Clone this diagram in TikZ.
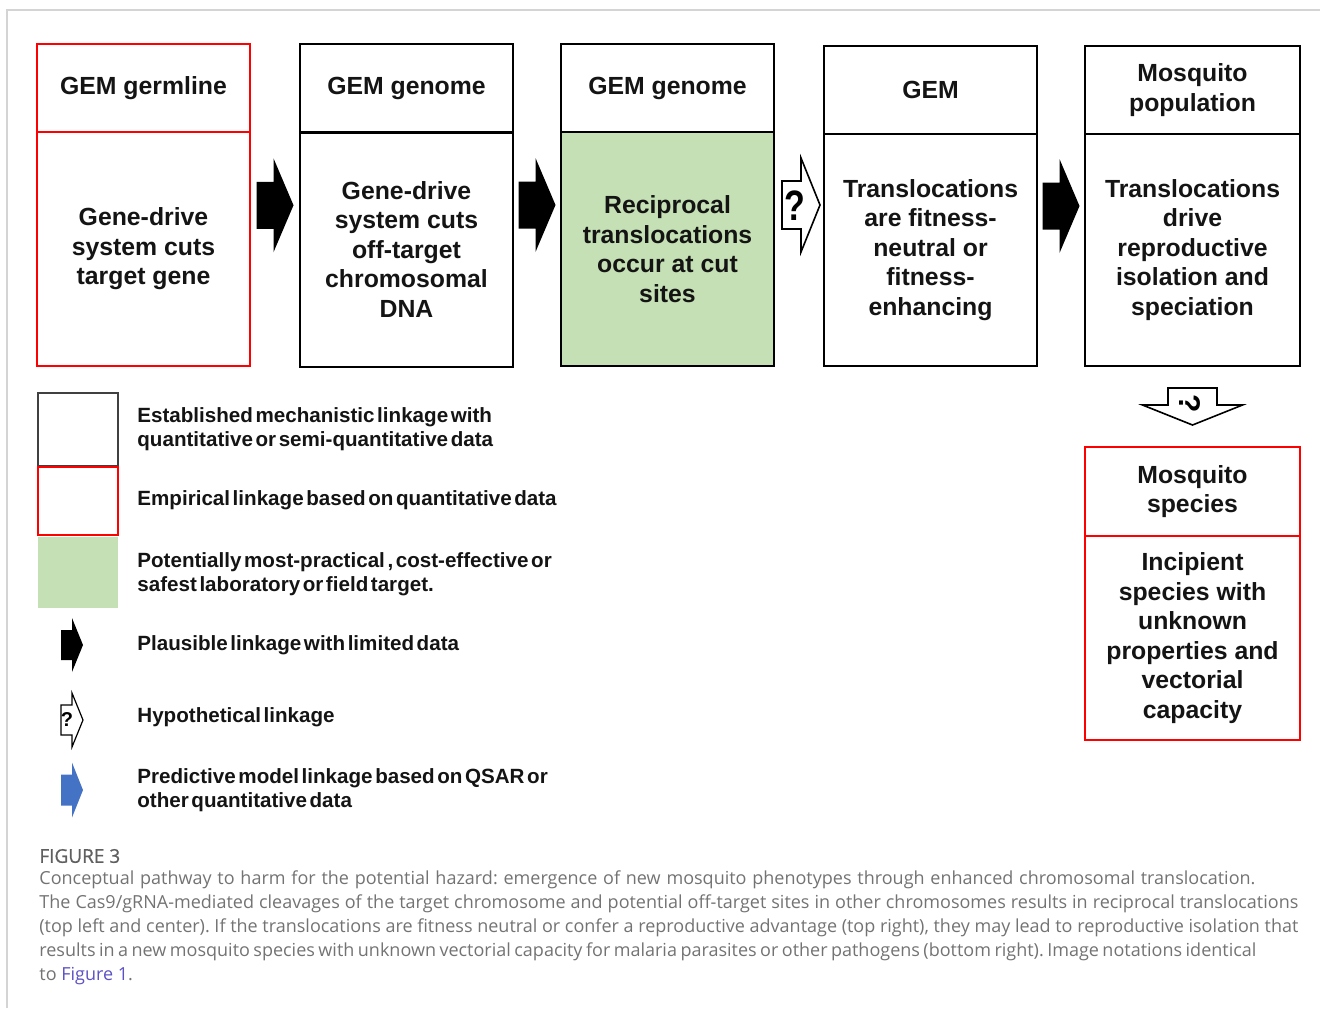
\documentclass[tikz,border=0pt]{standalone}
\usepackage{fontspec}
\setmainfont{Liberation Sans}
\newfontfamily\legfont[WordSpace=0.45]{Liberation Sans}
\newfontfamily\capfont{Open Sans}
\newfontfamily\captitlefont[FakeBold=0.8]{Open Sans}
\usetikzlibrary{calc}
\definecolor{boxred}{RGB}{255,0,0}
\definecolor{boxgreen}{RGB}{197,224,180}
\definecolor{arrblue}{RGB}{68,114,196}
\definecolor{framegray}{RGB}{212,212,212}
\definecolor{capgray}{RGB}{115,115,115}
\definecolor{titlegray}{RGB}{95,95,95}
\definecolor{linkpurple}{RGB}{92,82,196}
\definecolor{txt}{RGB}{20,20,20}
% #1 style, #2 centre, #3 shaft start, #4 head base, #5 tip, #6 shaft half, #7 head half
\newcommand\blkarrow[7]{\filldraw[#1,shift={(#2)}] (#3,-#6) -- (#4,-#6) -- (#4,-#7) -- (#5,0) -- (#4,#7) -- (#4,#6) -- (#3,#6) -- cycle;}
\frenchspacing
\begin{document}
\begin{tikzpicture}[x=0.5pt,y=-0.5pt,
  boxfont/.style={font=\fontsize{12.4}{14.75}\selectfont\bfseries, text=txt},
  hdr/.style={draw, line width=1pt, minimum width=106.5pt, minimum height=44pt, inner sep=0pt, align=center, boxfont},
  bdy/.style={draw, line width=1pt, minimum width=106.5pt, minimum height=117pt, inner sep=0pt, align=center, boxfont},
  redbox/.style={draw=boxred},
  legtext/.style={anchor=west, align=left, inner sep=0pt, font=\legfont\fontsize{10.3}{12}\selectfont\bfseries, text=txt},
  legsq/.style={minimum width=40pt, inner sep=0pt},
  caption/.style={anchor=west, inner sep=0pt, font=\capfont\fontsize{9}{12}\selectfont, text=capgray}
]
\useasboundingbox (0,0) rectangle (1320,1008);
\draw[framegray, line width=1pt] (7,1008) -- (7,10) -- (1320,10);

% boxes
\node[hdr,redbox] (h1) at (143.5,88) {GEM germline};
\node[bdy,redbox] (b1) at (143.5,249) {Gene-drive\\system cuts\\target gene};
\node[hdr] (h2) at (406.5,88) {GEM genome};
\node[bdy] (b2) at (406.5,249.5) {Gene-drive\\system cuts\\off-target\\chromosomal\\DNA};
\node[hdr] (h3) at (667.5,88) {GEM genome};
\node[bdy,fill=boxgreen] (b3) at (667.5,249) {Reciprocal\\translocations\\occur at cut\\sites};
\node[hdr] (h4) at (930.5,90) {GEM};
\node[bdy,minimum height=116pt] (b4) at (930.5,250) {Translocations\\are fitness-\\neutral or\\fitness-\\enhancing};
\node[hdr,minimum width=107.5pt] (h5) at (1192.5,90) {Mosquito\\population};
\node[bdy,minimum width=107.5pt,minimum height=116pt] (b5) at (1192.5,250) {Translocations\\drive\\reproductive\\isolation and\\speciation};
\node[hdr,redbox,minimum width=107.5pt,minimum height=44.5pt] (h6) at (1192.5,491.5) {Mosquito\\species};
\node[bdy,redbox,minimum width=107.5pt,minimum height=102pt] (b6) at (1192.5,638) {Incipient\\species with\\unknown\\properties and\\vectorial\\capacity};

% connectors (block arrows)
\coordinate (a1) at ($(h1.north east)!.5!(b2.south west)$);
\coordinate (a2) at ($(h2.north east)!.5!(b3.south west)$);
\coordinate (a3) at ($(h3.north east)!.5!(b4.south west)$);
\coordinate (a4) at ($(h4.north east)!.5!(b5.south west)$);
\coordinate (a5) at ($(b5.south)!.5!(h6.north)$);
\blkarrow{fill=black,draw=none}{a1}{-18.5}{-1.5}{18.5}{23.5}{47}
\blkarrow{fill=black,draw=none}{a2}{-18.5}{-1.5}{18.5}{23.5}{47}
\blkarrow{fill=white,draw=black,line width=0.8pt}{a3}{-17}{2}{21}{24}{47}
\node[inner sep=0pt, font=\fontsize{17}{17}\selectfont\bfseries, yscale=1.25] (q3) at ($(a3)+(-4,1)$) {?};
\blkarrow{fill=black,draw=none}{a4}{-18.5}{-1.5}{18.5}{23.5}{47}
\blkarrow{fill=white,draw=black,line width=0.8pt,rotate=-90}{a5}{-18.5}{-1.5}{18.5}{24.5}{50}
\node[inner sep=0pt, font=\fontsize{15}{15}\selectfont\bfseries, rotate=-90] (q5) at ($(a5)+(-3,-2.5)$) {?};

% legend
\node[legsq, draw=black!75, line width=1.3pt, minimum height=36.5pt] (lg1) at (78,429.5) {};
\node[legsq, draw=boxred, line width=1pt, minimum height=34pt] (lg2) at (78,501) {};
\node[legsq, fill=boxgreen, minimum height=35.5pt] (lg3) at (78,572.5) {};
\node[legtext] (lt1) at (137,429) {Established mechanistic linkage with\\quantitative or semi-quantitative data};
\node[legtext] (lt2) at (137,500) {Empirical linkage based on quantitative data};
\node[legtext] (lt3) at (137,574) {Potentially most-practical , cost-effective or\\safest laboratory or field target.};
\node[legtext] (lt4) at (137,645) {Plausible linkage with limited data};
\node[legtext] (lt5) at (137,717) {Hypothetical linkage};
\node[legtext] (lt6) at (137,790) {Predictive model linkage based on QSAR or\\other quantitative data};
\coordinate (la1) at (72,645);
\coordinate (la2) at (72,720);
\coordinate (la3) at (72,790);
\blkarrow{fill=black,draw=none}{la1}{-11}{0}{11}{15}{27}
\blkarrow{fill=white,draw=black,line width=0.6pt}{la2}{-11}{0}{11}{15}{27}
\node[inner sep=0pt, font=\fontsize{10}{10}\selectfont\bfseries] (lq) at (67,719) {?};
\blkarrow{fill=arrblue,draw=none}{la3}{-11}{0}{11}{15.5}{27.5}

% caption
\node[caption, font=\captitlefont\fontsize{9.5}{12}\selectfont, text=titlegray] (cap0) at (39,856) {FIGURE 3};
\node[caption] (cap1) at (39,880) {\makebox[608pt][s]{Conceptual pathway to harm for the potential hazard: emergence of new mosquito phenotypes through enhanced chromosomal translocation.}};
\node[caption] (cap2) at (39,904) {\makebox[629.5pt][s]{The Cas9/gRNA-mediated cleavages of the target chromosome and potential off-target sites in other chromosomes results in reciprocal translocations}};
\node[caption] (cap3) at (39,928) {\makebox[629.5pt][s]{(top left and center). If the translocations are fitness neutral or confer a reproductive advantage (top right), they may lead to reproductive isolation that}};
\node[caption] (cap4) at (39,952) {\makebox[608.5pt][s]{results in a new mosquito species with unknown vectorial capacity for malaria parasites or other pathogens (bottom right). Image notations identical}};
\node[caption] (cap5) at (39,976) {to \textcolor{linkpurple}{Figure 1}.};
\end{tikzpicture}
\end{document}
